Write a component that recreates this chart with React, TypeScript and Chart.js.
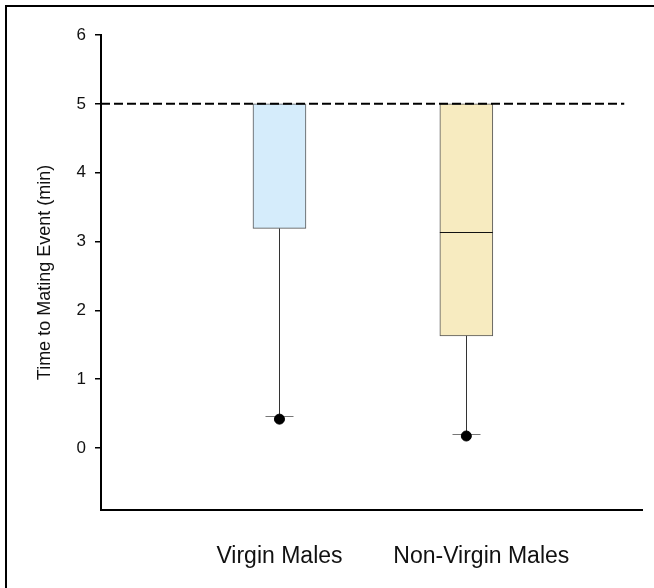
import { useEffect, useRef } from "react";
import { Chart, registerables } from "chart.js";

Chart.register(...registerables);

// Groups and their summary statistics (minutes)
const categories = ["Virgin Males", "Non-Virgin Males"];
const groupPositions = [1, 2];
const labelPositions = [1, 2.08];
const boxLower = [3.19, 1.63];
const boxUpper = [5.0, 5.0];
const medians = [5.0, 3.14];
const whiskerLow = [0.47, 0.2];
const outlierValues = [0.42, 0.175];
const referenceLevel = 5;
const referenceSpan = [0.045, 2.845];
const yTickValues = [0, 1, 2, 3, 4, 5, 6];

const boxFills = ["#d5ecfb", "#f7ebc0"];
const FONT = "'Liberation Sans', Arial, sans-serif";

const boxDecorations = {
  id: "boxDecorations",
  beforeDraw(chart: any) {
    const { ctx, width, height } = chart;
    ctx.save();
    ctx.fillStyle = "#ffffff";
    ctx.fillRect(0, 0, width, height);
    ctx.restore();
  },
  afterDatasetDraw(chart: any, args: any) {
    if (args.index !== 0) return;
    const { ctx } = chart;
    const xs = chart.scales.x;
    const ys = chart.scales.y;
    ctx.save();
    groupPositions.forEach((g, i) => {
      const cx = Math.round(xs.getPixelForValue(g)) + 0.5;
      const yBottom = ys.getPixelForValue(boxLower[i]);
      const yLow = Math.round(ys.getPixelForValue(whiskerLow[i])) + 0.5;
      // whisker stem
      ctx.strokeStyle = "#333";
      ctx.lineWidth = 1;
      ctx.beginPath();
      ctx.moveTo(cx, yBottom);
      ctx.lineTo(cx, yLow);
      ctx.stroke();
      // whisker cap
      ctx.strokeStyle = "#777";
      ctx.beginPath();
      ctx.moveTo(cx - 14, yLow);
      ctx.lineTo(cx + 14, yLow);
      ctx.stroke();
      // median
      if (medians[i] < boxUpper[i]) {
        const meta = chart.getDatasetMeta(0).data[i];
        const half = meta.width / 2;
        const ym = Math.round(ys.getPixelForValue(medians[i])) + 0.5;
        ctx.strokeStyle = "#111";
        ctx.beginPath();
        ctx.moveTo(meta.x - half, ym);
        ctx.lineTo(meta.x + half, ym);
        ctx.stroke();
      }
    });
    ctx.restore();
  },
  afterDraw(chart: any) {
    const { ctx, width, height } = chart;
    ctx.save();
    ctx.strokeStyle = "#000";
    ctx.lineWidth = 2;
    ctx.beginPath();
    ctx.moveTo(6, height);
    ctx.lineTo(6, 5);
    ctx.moveTo(5, 6);
    ctx.lineTo(width, 6);
    ctx.stroke();
    ctx.restore();
  },
};

export default function App() {
  const canvasRef = useRef<HTMLCanvasElement | null>(null);

  useEffect(() => {
    if (!canvasRef.current) return;
    const chart = new Chart(canvasRef.current, {
      type: "bar",
      data: {
        datasets: [
          {
            type: "bar",
            data: groupPositions.map((g, i) => ({ x: g, y: [boxLower[i], boxUpper[i]] })) as any,
            backgroundColor: boxFills,
            borderColor: "#555",
            borderWidth: 1,
            borderSkipped: false,
            barThickness: 53,
            order: 3,
          } as any,
          {
            type: "line",
            data: referenceSpan.map((x) => ({ x, y: referenceLevel })),
            borderColor: "#000",
            borderWidth: 2,
            borderDash: [9, 4],
            pointRadius: 0,
            fill: false,
            order: 1,
          },
          {
            type: "scatter",
            data: groupPositions.map((g, i) => ({ x: g, y: outlierValues[i] })),
            backgroundColor: "#000",
            borderColor: "#000",
            pointRadius: 5,
            order: 0,
          },
        ],
      },
      options: {
        animation: false,
        responsive: false,
        layout: { padding: { top: 35, right: 12, bottom: 0, left: 0 } },
        plugins: { legend: { display: false }, tooltip: { enabled: false } },
        scales: {
          x: {
            type: "linear",
            offset: false,
            min: 0.045,
            max: 2.94,
            grid: { display: false, drawTicks: false, offset: false },
            border: { display: true, color: "#000", width: 2 },
            afterBuildTicks: (scale: any) => {
              scale.ticks = labelPositions.map((v) => ({ value: v }));
            },
            afterFit: (scale: any) => {
              scale.height = 78;
            },
            ticks: {
              autoSkip: false,
              maxRotation: 0,
              padding: 33,
              color: "#111",
              font: { family: FONT, size: 23 },
              callback: (_v: any, i: number) => categories[i],
            },
          },
          y: {
            type: "linear",
            min: -0.9,
            max: 6,
            grid: {
              drawOnChartArea: false,
              drawTicks: true,
              tickLength: 6,
              color: "#000",
              lineWidth: 1.5,
            },
            border: { display: true, color: "#000", width: 2 },
            afterBuildTicks: (scale: any) => {
              scale.ticks = yTickValues.map((v) => ({ value: v }));
            },
            afterFit: (scale: any) => {
              scale.width = 101;
            },
            ticks: {
              padding: 9,
              color: "#111",
              font: { family: FONT, size: 17 },
            },
            title: {
              display: true,
              text: "Time to Mating Event (min)",
              color: "#111",
              font: { family: FONT, size: 18 },
              padding: { top: 34, bottom: 0 },
            },
          },
        },
      } as any,
      plugins: [boxDecorations],
    });
    return () => chart.destroy();
  }, []);

  return (
    <div style={{ position: "absolute", left: 0, top: 0, width: 654, height: 588 }}>
      <canvas ref={canvasRef} width={654} height={588} />
    </div>
  );
}
